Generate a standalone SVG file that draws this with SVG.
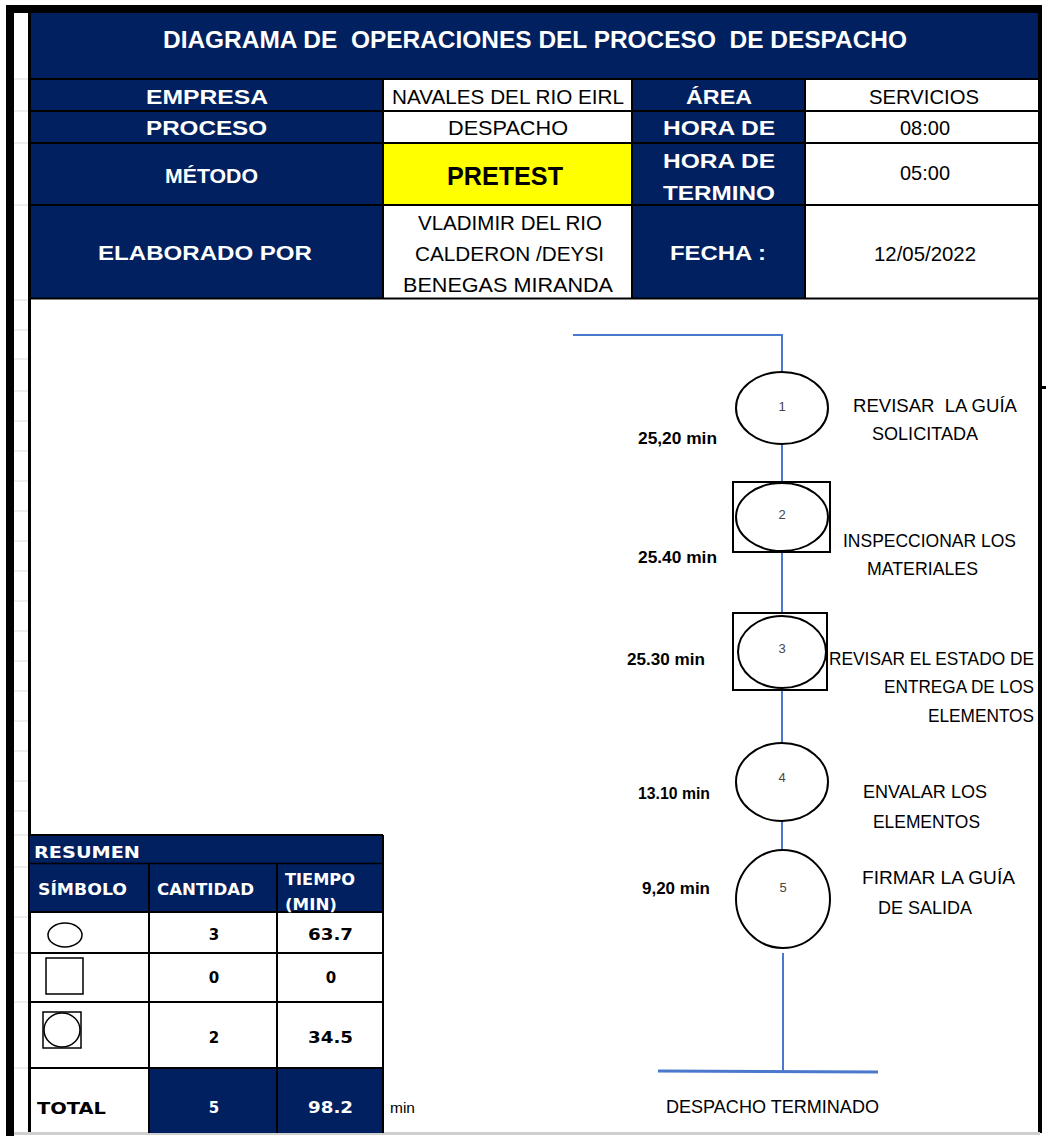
<svg xmlns="http://www.w3.org/2000/svg" width="1046" height="1136" viewBox="0 0 1046 1136">
<style>
.nv{fill:#002060}
.wh{fill:#ffffff}
.yl{fill:#ffff00}
.grid{stroke:#000;stroke-width:2;fill:none}
.xg{stroke:#dcdcdc;stroke-width:1}
.flow{stroke:#4a78cc;stroke-width:2;fill:none}
.shape{stroke:#000;stroke-width:2;fill:#fff}
.shape2{stroke:#000;stroke-width:2;fill:none}
text{font-family:"Liberation Sans",Arial,sans-serif}
.t-title{font-size:24px;font-weight:bold;fill:#fff}
.t-lab{font-size:21px;font-weight:bold;fill:#fff}
.t-val{font-size:21px;fill:#000}
.t-time{font-size:17px;font-weight:bold;fill:#000}
.t-desc{font-size:19px;fill:#000}
.t-desc2{font-size:17.5px;fill:#000}
.t-num{font-size:13px;fill:#444;text-anchor:middle}
.t-sum{font-family:"DejaVu Sans",sans-serif;font-weight:bold;font-size:15px}
.w{fill:#fff}
.k{fill:#000}
</style>

<!-- page frame -->
<g id="frame">
  <rect x="0" y="0" width="1046" height="1136" fill="#fff"/>
  <g class="xg">
    <line x1="14" y1="79" x2="28" y2="79"/><line x1="14" y1="111" x2="28" y2="111"/>
    <line x1="14" y1="143" x2="28" y2="143"/><line x1="14" y1="205" x2="28" y2="205"/>
    <line x1="14" y1="300" x2="28" y2="300"/><line x1="14" y1="330" x2="28" y2="330"/>
    <line x1="14" y1="359" x2="28" y2="359"/><line x1="14" y1="391" x2="28" y2="391"/>
    <line x1="14" y1="421" x2="28" y2="421"/><line x1="14" y1="451" x2="28" y2="451"/>
    <line x1="14" y1="481" x2="28" y2="481"/><line x1="14" y1="511" x2="28" y2="511"/>
    <line x1="14" y1="541" x2="28" y2="541"/><line x1="14" y1="571" x2="28" y2="571"/>
    <line x1="14" y1="601" x2="28" y2="601"/><line x1="14" y1="631" x2="28" y2="631"/>
    <line x1="14" y1="661" x2="28" y2="661"/><line x1="14" y1="691" x2="28" y2="691"/>
    <line x1="14" y1="721" x2="28" y2="721"/><line x1="14" y1="751" x2="28" y2="751"/>
    <line x1="14" y1="781" x2="28" y2="781"/><line x1="14" y1="811" x2="28" y2="811"/>
    <line x1="14" y1="835" x2="28" y2="835"/><line x1="14" y1="867" x2="28" y2="867"/>
    <line x1="14" y1="917" x2="28" y2="917"/><line x1="14" y1="953" x2="28" y2="953"/>
    <line x1="14" y1="1002" x2="28" y2="1002"/><line x1="14" y1="1068" x2="28" y2="1068"/>
  </g>
  <rect x="6" y="5" width="1036" height="8" fill="#000"/>
  <rect x="6" y="5" width="8" height="1131" fill="#000"/>
  <rect x="28" y="13" width="3" height="1120" fill="#000"/>
  <rect x="1038" y="13" width="4" height="1120" fill="#000"/>
  <rect x="1042" y="386" width="4" height="3" fill="#000"/>
  <line x1="14" y1="1133.5" x2="1040" y2="1133.5" stroke="#cfcfcf" stroke-width="3"/>
</g>

<!-- header table -->
<g id="header">
  <rect class="nv" x="31" y="13" width="1007" height="66"/>
  <rect class="nv" x="31" y="79" width="352" height="219"/>
  <rect class="wh" x="383" y="79" width="249" height="64"/>
  <rect class="yl" x="383" y="143" width="249" height="62"/>
  <rect class="wh" x="383" y="205" width="249" height="93"/>
  <rect class="nv" x="632" y="79" width="173" height="219"/>
  <rect class="wh" x="805" y="79" width="233" height="219"/>
  <g class="grid">
    <line x1="31" y1="79" x2="1038" y2="79"/>
    <line x1="31" y1="111" x2="1038" y2="111"/>
    <line x1="31" y1="143" x2="1038" y2="143"/>
    <line x1="31" y1="205" x2="1038" y2="205"/>
    <line x1="31" y1="298.5" x2="1038" y2="298.5"/>
    <line x1="383" y1="79" x2="383" y2="298"/>
    <line x1="632" y1="79" x2="632" y2="298"/>
    <line x1="805" y1="79" x2="805" y2="298"/>
  </g>
  <text class="t-title" x="163" y="48" textLength="744" lengthAdjust="spacingAndGlyphs" xml:space="preserve">DIAGRAMA DE  OPERACIONES DEL PROCESO  DE DESPACHO</text>
  <text class="t-lab" x="146" y="104" textLength="122" lengthAdjust="spacingAndGlyphs">EMPRESA</text>
  <text class="t-lab" x="146" y="135" textLength="121" lengthAdjust="spacingAndGlyphs">PROCESO</text>
  <text class="t-lab" x="165" y="183" textLength="93" lengthAdjust="spacingAndGlyphs">MÉTODO</text>
  <text class="t-lab" x="98" y="260" textLength="214" lengthAdjust="spacingAndGlyphs">ELABORADO POR</text>
  <text class="t-val" x="392" y="104" textLength="232" lengthAdjust="spacingAndGlyphs">NAVALES DEL RIO EIRL</text>
  <text class="t-val" x="448" y="135" textLength="120" lengthAdjust="spacingAndGlyphs">DESPACHO</text>
  <text x="447" y="185" font-size="25" font-weight="bold" fill="#000" textLength="116" lengthAdjust="spacingAndGlyphs">PRETEST</text>
  <text class="t-val" x="418" y="230" textLength="184" lengthAdjust="spacingAndGlyphs">VLADIMIR DEL RIO</text>
  <text class="t-val" x="415" y="261" textLength="189" lengthAdjust="spacingAndGlyphs">CALDERON /DEYSI</text>
  <text class="t-val" x="403" y="292" textLength="210" lengthAdjust="spacingAndGlyphs">BENEGAS MIRANDA</text>
  <text class="t-lab" x="686" y="104" textLength="66" lengthAdjust="spacingAndGlyphs">ÁREA</text>
  <text class="t-lab" x="663" y="135" textLength="112" lengthAdjust="spacingAndGlyphs">HORA DE</text>
  <text class="t-lab" x="663" y="168" textLength="112" lengthAdjust="spacingAndGlyphs">HORA DE</text>
  <text class="t-lab" x="663" y="200" textLength="112" lengthAdjust="spacingAndGlyphs">TERMINO</text>
  <text class="t-lab" x="670" y="260" textLength="96" lengthAdjust="spacingAndGlyphs">FECHA :</text>
  <text class="t-val" x="869" y="104" textLength="110" lengthAdjust="spacingAndGlyphs">SERVICIOS</text>
  <text class="t-val" x="900" y="135" textLength="50" lengthAdjust="spacingAndGlyphs">08:00</text>
  <text class="t-val" x="900" y="180" textLength="50" lengthAdjust="spacingAndGlyphs">05:00</text>
  <text class="t-val" x="874" y="261" textLength="102" lengthAdjust="spacingAndGlyphs">12/05/2022</text>
</g>

<!-- connectors -->
<g id="connectors" class="flow">
  <polyline points="573,335 782,335 782,372"/>
  <line x1="782" y1="444" x2="782" y2="482"/>
  <line x1="782" y1="552" x2="782" y2="613"/>
  <line x1="782" y1="690" x2="782" y2="743"/>
  <line x1="782" y1="821" x2="782" y2="850"/>
  <line x1="783" y1="953" x2="783" y2="1071"/>
  <line x1="658" y1="1071" x2="878" y2="1072" stroke-width="3"/>
</g>

<!-- nodes -->
<g id="node1">
  <ellipse class="shape" cx="782" cy="408" rx="46" ry="36"/>
  <text class="t-num" x="782" y="411">1</text>
  <text class="t-time" x="638" y="444" textLength="79" lengthAdjust="spacingAndGlyphs">25,20 min</text>
  <text class="t-desc" x="853" y="412" textLength="164" lengthAdjust="spacingAndGlyphs" xml:space="preserve">REVISAR  LA GUÍA</text>
  <text class="t-desc" x="872" y="440" textLength="106" lengthAdjust="spacingAndGlyphs">SOLICITADA</text>
</g>
<g id="node2">
  <rect class="shape" x="733" y="482" width="97" height="70"/>
  <ellipse class="shape2" cx="782" cy="517" rx="46" ry="34"/>
  <text class="t-num" x="782" y="519">2</text>
  <text class="t-time" x="638" y="563" textLength="79" lengthAdjust="spacingAndGlyphs">25.40 min</text>
  <text class="t-desc" x="843" y="547" textLength="173" lengthAdjust="spacingAndGlyphs">INSPECCIONAR LOS</text>
  <text class="t-desc" x="867" y="575" textLength="111" lengthAdjust="spacingAndGlyphs">MATERIALES</text>
</g>
<g id="node3">
  <rect class="shape" x="733" y="613" width="94" height="77"/>
  <ellipse class="shape2" cx="782" cy="652" rx="44" ry="36"/>
  <text class="t-num" x="782" y="653">3</text>
  <text class="t-time" x="627" y="665" textLength="78" lengthAdjust="spacingAndGlyphs">25.30 min</text>
  <text class="t-desc2" x="829" y="665" textLength="205" lengthAdjust="spacingAndGlyphs">REVISAR EL ESTADO DE</text>
  <text class="t-desc2" x="884" y="693" textLength="150" lengthAdjust="spacingAndGlyphs">ENTREGA DE LOS</text>
  <text class="t-desc2" x="928" y="722" textLength="106" lengthAdjust="spacingAndGlyphs">ELEMENTOS</text>
</g>
<g id="node4">
  <ellipse class="shape" cx="782" cy="782" rx="46" ry="39"/>
  <text class="t-num" x="782" y="782">4</text>
  <text class="t-time" x="638" y="799" textLength="72" lengthAdjust="spacingAndGlyphs">13.10 min</text>
  <text class="t-desc" x="863" y="798" textLength="124" lengthAdjust="spacingAndGlyphs">ENVALAR LOS</text>
  <text class="t-desc" x="873" y="828" textLength="107" lengthAdjust="spacingAndGlyphs">ELEMENTOS</text>
</g>
<g id="node5">
  <ellipse class="shape" cx="783" cy="899" rx="47" ry="49"/>
  <text class="t-num" x="783" y="892">5</text>
  <text class="t-time" x="642" y="894" textLength="68" lengthAdjust="spacingAndGlyphs">9,20 min</text>
  <text class="t-desc" x="862" y="884" textLength="153" lengthAdjust="spacingAndGlyphs">FIRMAR LA GUÍA</text>
  <text class="t-desc" x="878" y="914" textLength="94" lengthAdjust="spacingAndGlyphs">DE SALIDA</text>
</g>
<g id="end">
  <text class="t-desc" x="666" y="1113" textLength="213" lengthAdjust="spacingAndGlyphs">DESPACHO TERMINADO</text>
</g>

<!-- summary table -->
<g id="resumen">
  <rect class="nv" x="30" y="835" width="353" height="77"/>
  <rect class="nv" x="149" y="1068" width="234" height="65"/>
  <g class="grid">
    <line x1="30" y1="835" x2="383" y2="835"/>
    <line x1="30" y1="863.5" x2="383" y2="863.5" stroke-width="1.5"/>
    <line x1="30" y1="912" x2="383" y2="912"/>
    <line x1="30" y1="953" x2="383" y2="953"/>
    <line x1="30" y1="1002" x2="383" y2="1002"/>
    <line x1="30" y1="1068" x2="383" y2="1068"/>
    <line x1="149" y1="863" x2="149" y2="1133"/>
    <line x1="277" y1="863" x2="277" y2="1133"/>
    <line x1="383" y1="835" x2="383" y2="1133"/>
  </g>
  <ellipse cx="65" cy="935" rx="17" ry="12" fill="none" stroke="#000" stroke-width="1.5"/>
  <rect x="46" y="958" width="37" height="36" fill="none" stroke="#000" stroke-width="1.5"/>
  <rect x="43" y="1012" width="38" height="36" fill="none" stroke="#000" stroke-width="1.5"/>
  <ellipse cx="62" cy="1030" rx="18" ry="17" fill="none" stroke="#000" stroke-width="1.5"/>
  <text class="t-sum w" x="34" y="858" font-size="16" textLength="106" lengthAdjust="spacingAndGlyphs">RESUMEN</text>
  <text class="t-sum w" x="38" y="895" font-size="14" textLength="89" lengthAdjust="spacingAndGlyphs">SÍMBOLO</text>
  <text class="t-sum w" x="157" y="895" font-size="14" textLength="97" lengthAdjust="spacingAndGlyphs">CANTIDAD</text>
  <text class="t-sum w" x="285" y="885" font-size="14" textLength="70" lengthAdjust="spacingAndGlyphs">TIEMPO</text>
  <text class="t-sum w" x="285" y="910" font-size="14" textLength="52" lengthAdjust="spacingAndGlyphs">(MIN)</text>
  <text class="t-sum k" x="214" y="940" font-size="17" text-anchor="middle">3</text>
  <text class="t-sum k" x="308" y="940" font-size="17" textLength="45" lengthAdjust="spacingAndGlyphs">63.7</text>
  <text class="t-sum k" x="214" y="983" font-size="17" text-anchor="middle">0</text>
  <text class="t-sum k" x="331" y="983" font-size="17" text-anchor="middle">0</text>
  <text class="t-sum k" x="214" y="1043" font-size="17" text-anchor="middle">2</text>
  <text class="t-sum k" x="308" y="1043" font-size="17" textLength="45" lengthAdjust="spacingAndGlyphs">34.5</text>
  <text class="t-sum k" x="37" y="1114" font-size="19" textLength="69" lengthAdjust="spacingAndGlyphs">TOTAL</text>
  <text class="t-sum w" x="214" y="1113" font-size="18" text-anchor="middle">5</text>
  <text class="t-sum w" x="308" y="1113" font-size="18" textLength="45" lengthAdjust="spacingAndGlyphs">98.2</text>
  <text x="390" y="1113" font-size="14" fill="#000" textLength="25" lengthAdjust="spacingAndGlyphs">min</text>
</g>
</svg>
